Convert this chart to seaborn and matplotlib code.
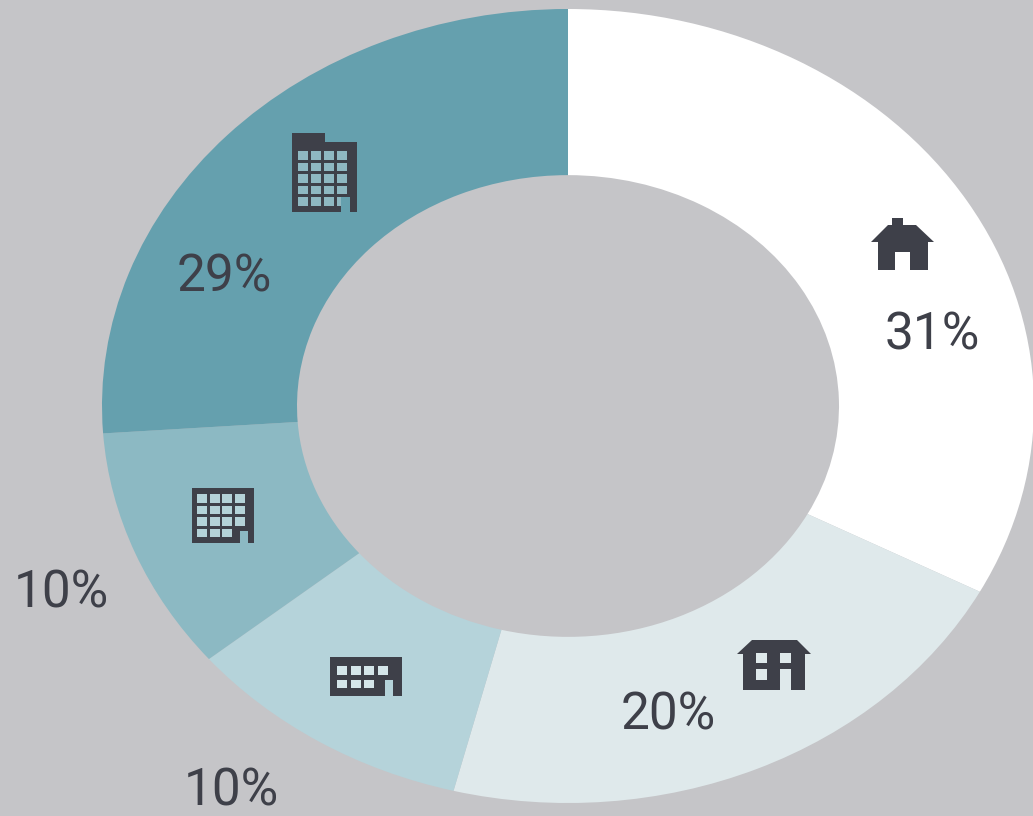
import matplotlib
matplotlib.use('Agg')
import matplotlib.pyplot as plt
import seaborn as sns
from matplotlib.patches import Polygon, Rectangle
from matplotlib.transforms import Affine2D

# slice sizes as drawn in the picture, the printed labels do not quite match them
categories = ['house', 'villa', 'low rise', 'mid rise', 'high rise']
drawn_share = [32.75, 21.2, 10.05, 9.9, 26.1]
labels = ['31%', '20%', '10%', '10%', '29%']
colors = ['#ffffff', '#dfe9eb', '#b5d3da', '#8cb9c3', '#65a0ae']

BG = '#c5c5c8'
DARK = '#3e4049'
W, H = 1033, 816
CX, CY, RX, RY = 568, 406, 466, 397

sns.set_style('white')
plt.rcParams['font.family'] = ['Roboto', 'DejaVu Sans']

fig = plt.figure(figsize=(W / 100, H / 100), dpi=100, facecolor=BG)
ax = fig.add_axes([0, 0, 1, 1])
ax.pie(drawn_share, colors=colors, startangle=90, counterclock=False, radius=1,
       wedgeprops=dict(width=1 - 271 / 466, linewidth=0))
ax.set_aspect('auto')
ax.set_xlim(-CX / RX, (W - CX) / RX)
ax.set_ylim(-(H - CY) / RY, CY / RY)
ax.axis('off')

# pixel coords for the text and the little icons, y going down
px = Affine2D().scale(1, -1).translate(0, H)


def rect(x0, y0, x1, y1, color):
    ax.add_patch(Rectangle((x0, y0), x1 - x0, y1 - y0, fc=color, ec='none', transform=px, clip_on=False))


def windows(x0, y0, cols, rows, w, h, dx, dy, color, skip=()):
    for r in range(rows):
        for c in range(cols):
            if (r, c) not in skip:
                rect(x0 + c * dx, y0 + r * dy, x0 + c * dx + w, y0 + r * dy + h, color)


# high rise
rect(292, 133, 325, 212, DARK)
rect(325, 142, 357, 212, DARK)
windows(298, 151, 4, 5, 10, 8.5, 13, 11.5, '#8fb8c2')
rect(341, 197, 350, 212, colors[4])

# mid rise
rect(192, 488, 254, 543, DARK)
windows(197, 494, 4, 4, 10, 8.5, 12.5, 11.5, '#b4d2d8', skip=[(3, 3)])
rect(240, 531, 248, 543, colors[3])

# low rise
rect(330, 657, 402, 696, DARK)
windows(337, 666, 4, 2, 10, 8.5, 13.5, 13.5, '#d5e6ea', skip=[(1, 3)])
rect(385, 680, 393, 696, colors[2])

# villa
ax.add_patch(Polygon([(737, 654), (752, 640), (797, 640), (811, 654)], fc=DARK, ec='none', transform=px))
rect(743, 654, 805, 690, DARK)
rect(756, 653, 767, 663, colors[1])
rect(780, 653, 791, 663, colors[1])
rect(756, 669, 767, 680, colors[1])
rect(780, 669, 791, 690, colors[1])

# house
ax.add_patch(Polygon([(871, 242), (888, 225), (892, 225), (892, 218), (903, 218), (903, 225),
                      (916, 225), (934, 242), (928, 242), (928, 270), (910, 270), (910, 252),
                      (895, 252), (895, 270), (878, 270), (878, 242)],
                     fc=DARK, ec='none', transform=px))

# percent labels
label_pos = [(932, 335), (668, 715), (231, 792), (61, 594), (224, 277)]
for (x, y), lab in zip(label_pos, labels):
    ax.text(x, y, lab, transform=px, color=DARK, fontsize=37, ha='center', va='center')

fig.savefig('out.png', dpi=100, facecolor=BG)
